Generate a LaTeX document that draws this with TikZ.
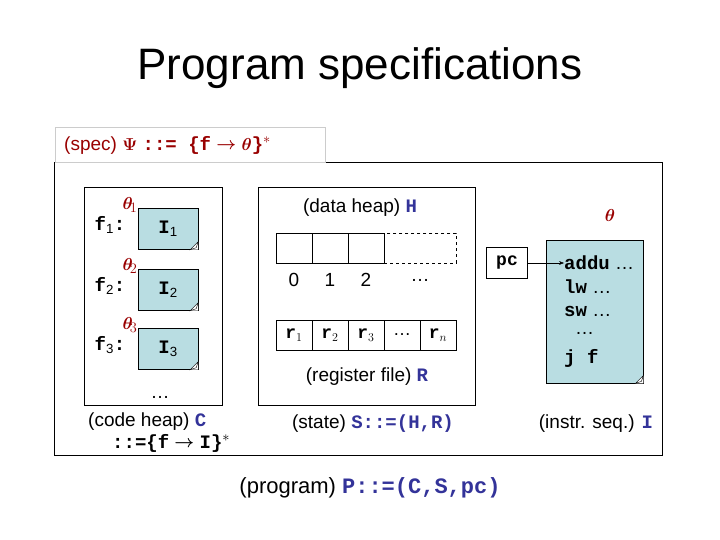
\documentclass[tikz,border=0pt]{standalone}
\usepackage{amsmath,amssymb,bm}
\usepackage{fontspec}
\setmainfont{Liberation Sans}
\setmonofont{Liberation Mono}
\usetikzlibrary{arrows.meta}
\definecolor{dred}{HTML}{990000}
\definecolor{dblue}{HTML}{333399}
\definecolor{notec}{HTML}{B9DDE2}
\newcommand{\cd}[1]{{\ttfamily\bfseries #1}}
\newcommand{\fold}[1]{\fill[white] ([xshift=-8pt]#1.south east)--([yshift=8pt]#1.south east)--(#1.south east)--cycle;
 \draw ([xshift=-8pt]#1.south east)--([yshift=8pt]#1.south east)--([xshift=-2pt,yshift=2pt]#1.south east)--cycle;}
\begin{document}
\begin{tikzpicture}[x=1pt,y=-1pt,
 note/.style={draw,fill=notec,minimum width=60pt,minimum height=41pt,inner sep=0pt,font=\fontsize{19}{22}\selectfont},
 cell/.style={draw,minimum width=36pt,minimum height=30pt,inner sep=0pt},
 txt/.style={font=\fontsize{19}{22}\selectfont,inner sep=0pt}]
\useasboundingbox (0,0) rectangle (720,540);
\node[font=\fontsize{44}{48}\selectfont] (title) at (360,68) {Program specifications};
% outer box
\draw (325,162) -- (662,162) -- (662,455) -- (54,455) -- (54,162);
\node[draw=gray!40,fill=white,minimum width=270pt,minimum height=35pt,anchor=north west,inner sep=0pt] (spec) at (55,127) {};
\node[txt,text=dred,anchor=west] (spect) at (64,145) {(spec) $\bm{\Psi}$ \cd{::= \{f} \raisebox{1pt}{$\bm{\rightarrow}$} $\bm{\theta}$\cd{\}}$^*$};
% code heap
\node[draw,minimum width=138pt,minimum height=218pt,anchor=north west,inner sep=0pt] (chp) at (84,187) {};
\foreach \i/\y in {1/229,2/290,3/349}{
 \node[note] (I\i) at (168,\y) {\cd{I$_{\mathrm{\i}}$}};
 \fold{I\i}
 \node[txt] (f\i) at (110,\y-4) {\cd{f$_{\mathrm{\i}}$:}};
 \node[txt,text=dred] (th\i) at (130,\y-24) {$\bm{\theta}_{\!\i}$};
}
\node[txt] (cdots) at (160,397) {…};
\node[txt,anchor=west] (chl) at (88,422) {(code heap) \textcolor{dblue}{\cd{C}}};
\node[txt,anchor=west] (chl2) at (112,443) {\cd{::=\{f} \raisebox{1pt}{$\bm{\rightarrow}$} \cd{I\}}$^*$};
% state
\node[draw,minimum width=217pt,minimum height=218pt,anchor=north west,inner sep=0pt] (st) at (258,187) {};
\node[txt] (dh) at (360,208) {(data heap) \textcolor{dblue}{\cd{H}}};
\foreach \i in {0,1,2}{\node[cell] (h\i) at (294+36*\i,248) {};}
\node[draw,dashed,minimum width=72pt,minimum height=30pt,inner sep=0pt,anchor=west] (hd) at (h2.east) {};
\foreach \i/\t in {0/0,1/1,2/2}{\node[txt] (n\i) at (294+36*\i,280) {\t};}
\node[txt] (nd) at (420,280) {…};
\foreach \i/\t in {1/\cd{r$_1$},2/\cd{r$_2$},3/\cd{r$_3$},4/…,5/\cd{r$_n$}}{\node[cell,font=\fontsize{18}{20}\selectfont] (r\i) at (258+36*\i,335) {\t};}
\node[txt] (rf) at (367,377) {(register file) \textcolor{dblue}{\cd{R}}};
\node[txt] (stl) at (373,424) {(state) \textcolor{dblue}{\cd{S::=(H,R)}}};
% instructions
\node[draw,minimum width=41pt,minimum height=31pt,inner sep=0pt,font=\fontsize{18}{20}\selectfont] (pc) at (507,263) {\cd{pc}};
\node[txt,text=dred] (th) at (610,216) {$\bm{\theta}$};
\node[note,minimum width=97pt,minimum height=143pt,anchor=north west] (seq) at (546,240) {};
\fold{seq}
\node[txt,anchor=west] (a1) at (564,263) {\cd{addu} …};
\node[txt,anchor=west] (a2) at (564,287) {\cd{lw} …};
\node[txt,anchor=west] (a3) at (564,311) {\cd{sw} …};
\node[txt,anchor=west] (a4) at (575,333) {…};
\node[txt,anchor=west] (a5) at (564,358) {\cd{j f}};
\draw[-{Stealth[length=5pt]}] (pc) -- (a1);
\node[txt] (isl) at (596,424) {(instr. seq.) \textcolor{dblue}{\cd{I}}};
\node[txt,font=\fontsize{22}{26}\selectfont] (prog) at (370,488) {(program) \textcolor{dblue}{\cd{P::=(C,S,pc)}}};
\end{tikzpicture}
\end{document}
